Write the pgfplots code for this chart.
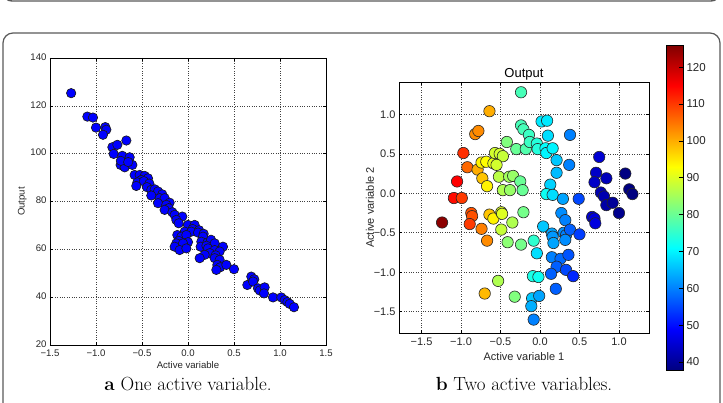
\documentclass[border=0pt]{standalone}
\usepackage{fontspec}
\usepackage{pgfplots}
\pgfplotsset{compat=1.18}
\newfontfamily\plotfont{Liberation Sans}

\pgfplotstableread{
x y
-1.27 125.3
-1.094 115.5
-1.033 115.1
-1.00 110.9
-0.899 111.1
-0.888 110.0
-0.924 107.9
-0.670 105.5
-0.822 102.7
-0.768 103.7
-0.808 99.9
-0.714 99.1
-0.634 98.5
-0.732 95.3
-0.688 94.3
-0.605 95.3
-0.73 97.0
-0.65 96.5
-0.580 91.1
-0.525 91.1
-0.471 90.7
-0.507 89.0
-0.435 89.7
-0.55 88.0
-0.48 88.5
-0.42 87.5
-0.562 86.5
-0.446 86.0
-0.399 84.9
-0.362 85.1
-0.326 84.2
-0.28 83.0
-0.399 82.5
-0.308 81.4
-0.254 81.4
-0.326 79.3
-0.20 79.5
-0.236 78.6
-0.210 77.2
-0.254 76.5
-0.17 75.5
-0.145 74.4
-0.062 73.7
-0.127 72.3
-0.101 70.9
0.0 70.2
0.072 70.2
0.05 68.5
0.12 68.0
-0.036 67.4
0.036 67.4
0.109 67.0
0.17 66.5
-0.116 66.0
-0.072 65.3
-0.018 66.0
-0.10 63.5
0.00 63.0
-0.127 62.5
-0.054 62.5
-0.145 61.1
-0.091 59.7
-0.018 60.4
0.163 65.3
0.145 63.2
0.210 62.8
0.25 64.0
0.290 62.5
0.138 61.1
0.20 61.5
0.217 60.4
0.290 59.7
0.380 61.1
0.344 59.1
0.236 58.4
0.30 57.5
0.181 57.7
0.127 56.3
0.290 56.3
0.344 55.6
0.319 53.5
0.35 52.5
0.308 51.4
0.417 53.5
0.50 51.7
0.688 48.6
0.72 47.5
0.645 45.1
0.707 46.5
0.761 43.7
0.78 42.8
0.833 44.1
0.826 41.6
0.924 39.9
1.014 39.9
1.051 38.8
1.08 38.0
1.105 37.2
1.152 35.8
}\onevar

\pgfplotstableread{
x y c
-0.24 1.28 77
-0.64 1.04 100
-0.82 0.75 103
-0.78 0.79 103
-0.97 0.51 111
-0.92 0.33 106
-1.05 0.15 115
-1.09 -0.06 114
-0.99 -0.06 110
-1.24 -0.37 125
-0.87 -0.25 108
-0.86 -0.29 108
-0.89 -0.39 110
-0.74 -0.45 104
-0.67 -0.60 103
-0.70 -1.27 99
-0.79 0.30 100
-0.73 0.19 98
-0.67 0.09 94
-0.74 0.39 94
-0.68 0.40 93
-0.59 0.38 91
-0.57 0.51 89
-0.51 0.50 89
-0.47 0.47 88
-0.55 0.36 89
-0.52 0.21 87
-0.42 0.65 82
-0.39 0.21 85
-0.34 0.22 84
-0.47 0.04 86
-0.38 0.04 84
-0.30 0.56 80
-0.25 0.15 80
-0.22 0.04 80
-0.24 0.86 77
-0.21 0.81 77
-0.14 0.74 76
-0.18 0.56 78
-0.13 0.65 76
-0.04 0.63 74
-0.03 0.56 74
0.02 0.91 69
0.09 0.92 69
0.10 0.73 68
0.07 0.57 71
0.08 0.51 70
0.16 0.57 70
0.21 0.42 66
0.21 0.26 65
0.37 0.36 60
0.38 0.74 60
0.13 0.11 67
0.08 -0.01 72
0.16 -0.02 68
0.29 -0.07 63
0.49 -0.07 55
-0.21 -0.24 81
-0.64 -0.27 98
-0.59 -0.32 94
-0.49 -0.24 90
-0.48 -0.26 90
-0.49 -0.46 88
-0.35 -0.37 86
-0.41 -0.62 83
-0.24 -0.65 81
-0.08 -0.60 75
-0.04 -0.76 68
0.04 -0.42 66
0.15 -0.51 63
0.16 -0.55 62
0.17 -0.63 63
0.27 -0.25 61
0.32 -0.34 60
0.30 -0.50 61
0.33 -0.53 60
0.32 -0.59 61
0.38 -0.46 57
0.50 -0.52 54
0.15 -0.81 60
0.26 -0.83 58
0.36 -0.78 56
0.21 -0.93 57
0.33 -0.97 55
0.42 -1.05 52
0.14 -1.02 57
-0.09 -1.05 73
-0.02 -1.06 72
-0.53 -1.11 86
-0.32 -1.31 82
-0.10 -1.33 66
-0.11 -1.43 64
-0.01 -1.30 63
0.20 -1.21 57
-0.08 -1.60 60
0.75 0.46 45
0.71 0.26 44
0.69 0.14 44
0.84 0.19 43
0.77 0.01 42
0.81 -0.04 42
0.84 -0.15 41
0.92 -0.12 40
1.00 -0.25 39
1.08 0.25 38
1.13 0.05 37
1.17 -0.01 36
0.66 -0.30 45
0.69 -0.32 46
0.70 -0.38 46
}\twovar

\definecolor{framegray}{gray}{0.35}
\definecolor{textgray}{gray}{0.15}

\pgfplotsset{
  mplstyle/.style={
    scale only axis,
    anchor=south west,
    axis line style={black, line width=0.8pt},
    tick align=inside,
    major tick length=3pt,
    tick style={black, line width=0.6pt},
    grid=major,
    major grid style={black!75, line width=0.6pt, dash pattern=on 0.8pt off 1.6pt},
    label style={text=textgray},
    tick label style={text=textgray},
  },
}

\begin{document}
\begin{tikzpicture}
\useasboundingbox (0pt,0pt) rectangle (723pt,402pt);
\begin{scope}
  \clip (0pt,0pt) rectangle (723pt,402pt);
  \draw[framegray, line width=1.4pt, rounded corners=9pt] (3pt,430pt) rectangle (720pt,401pt);
  \draw[framegray, line width=1.2pt, rounded corners=10pt] (3pt,-30pt) rectangle (720pt,369pt);
\end{scope}

% single active variable
\begin{axis}[mplstyle,
  at={(50pt,57pt)}, width=276pt, height=287pt,
  xmin=-1.5, xmax=1.5, ymin=20, ymax=140,
  xtick={-1.5,-1,-0.5,0,0.5,1,1.5},
  xticklabels={−1.5,−1.0,−0.5,0.0,0.5,1.0,1.5},
  ytick={20,40,60,80,100,120,140},
  yticklabels={20,40,60,80,100,120,140},
  font=\plotfont\fontsize{9.6}{11}\selectfont,
  xticklabel style={yshift=-1.5pt},
  yticklabel style={yshift=1pt},
  xlabel={Active variable}, ylabel={Output},
  xlabel style={yshift=2.5pt}, ylabel style={yshift=-3pt},
]
\addplot[only marks, mark=*, mark size=4.7pt,
  mark options={fill=blue, draw=black!90, line width=0.65pt}] table[x=x, y=y] {\onevar};
\end{axis}

% two active variables, coloured by the output
\begin{axis}[mplstyle,
  at={(399pt,69pt)}, width=250pt, height=251pt,
  xmin=-1.785, xmax=1.38, ymin=-1.77, ymax=1.41,
  xtick={-1.5,-1,-0.5,0,0.5,1},
  xticklabels={−1.5,−1.0,−0.5,0.0,0.5,1.0},
  ytick={-1.5,-1,-0.5,0,0.5,1},
  yticklabels={−1.5,−1.0,−0.5,0.0,0.5,1.0},
  font=\plotfont\fontsize{11}{13}\selectfont,
  xticklabel style={yshift=-1.5pt},
  title={Output}, title style={font=\plotfont\fontsize{13}{15}\selectfont, yshift=-8pt},
  xlabel={Active variable 1}, ylabel={Active variable 2},
  xlabel style={yshift=0pt}, ylabel style={yshift=-7pt},
  colormap/jet, point meta min=37.8, point meta max=126,
]
\addplot[scatter, only marks, mark=*, mark size=5.7pt, scatter src=explicit,
  scatter/use mapped color={draw=black!85, fill=mapped color},
  mark options={line width=0.6pt}] table[x=x, y=y, meta=c] {\twovar};
\end{axis}

% colour scale
\begin{axis}[
  scale only axis, anchor=south west,
  at={(666pt,32pt)}, width=17pt, height=325pt,
  xmin=0, xmax=1, ymin=37.8, ymax=126,
  xtick=\empty, ytick={40,50,...,120},
  yticklabel pos=right, ytick pos=right,
  tick align=inside, major tick length=4pt,
  tick style={black, line width=0.6pt},
  axis line style={black, line width=0.8pt},
  axis on top,
  colormap/jet, point meta min=37.8, point meta max=126,
  /pgf/number format/assume math mode=true,
  tick label style={text=textgray, font=\plotfont\fontsize{11.5}{13}\selectfont},
]
\addplot[surf, shader=interp, mesh/cols=2, point meta=y] coordinates {(0,37.8) (1,37.8) (0,126) (1,126)};
\end{axis}

% sub-captions
\node[font=\fontsize{19}{22}\selectfont, text=black] at (188pt,18pt) {\textbf{a} One active variable.};
\node[font=\fontsize{19}{22}\selectfont, text=black] at (524pt,18pt) {\textbf{b} Two active variables.};
\end{tikzpicture}
\end{document}
